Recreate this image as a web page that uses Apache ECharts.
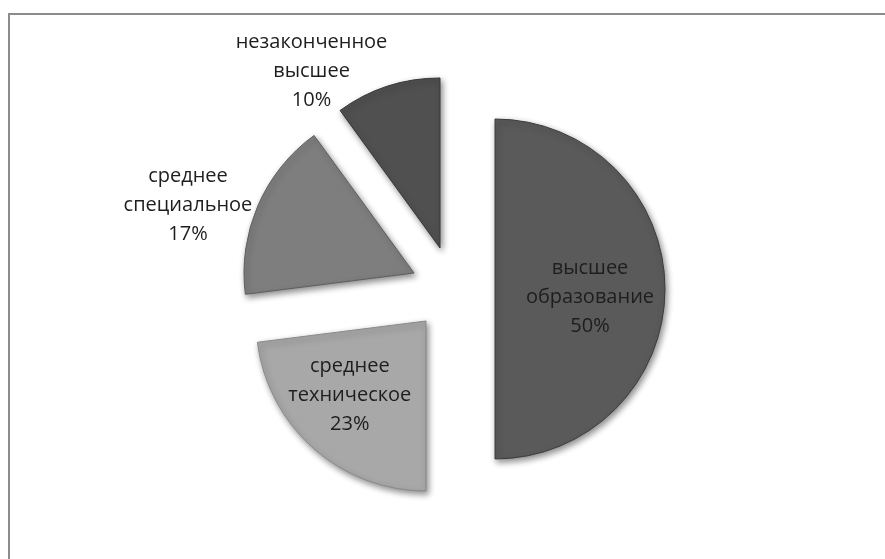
<!DOCTYPE html>
<html>
<head>
<meta charset="utf-8">
<script src="https://cdn.jsdelivr.net/npm/echarts@6/dist/echarts.min.js"></script>
<style>
html,body{margin:0;padding:0;background:#fff;}
#chart{width:885px;height:559px;}
</style>
</head>
<body>
<div id="chart"></div>
<script>
// ---- data ----
const categories = ['высшее образование', 'среднее техническое', 'среднее специальное', 'незаконченное высшее'];
const values = [50, 23, 17, 10];

// ---- styling / layout (not data) ----
const sliceColors = ['#5a5a5a', '#a8a8a8', '#7e7e7e', '#505050'];
const borderColors = ['#3c3c3c', '#8a8a8a', '#5e5e5e', '#383838'];
const centers = [[495, 289], [426, 321], [414, 273], [440, 248]];
const RADIUS = 170;
const FONT = '"Open Sans", "Noto Sans", sans-serif';

function labelText(name, pct) {
  return name.replace(' ', '\n') + '\n' + pct + '%';
}

const labelCfg = [
  { position: 'inside', dx: 7, dy: 8 },
  { position: 'inside', dx: -18, dy: 8 },
  { position: 'outside', length: 0, length2: 0, blockW: 130 },
  { position: 'outside', length: 16, length2: 0, blockW: 132 }
];

const series = categories.map((cat, si) => {
  const cfg = labelCfg[si];
  const data = categories.map((name, i) => {
    const visible = i === si;
    return {
      name: name,
      value: values[i],
      itemStyle: visible ? {
        color: {
          type: 'radial', x: 0.5, y: 0.5, r: 0.9,
          colorStops: [
            { offset: 0, color: sliceColors[i] },
            { offset: 1, color: sliceColors[i] }
          ]
        },
        borderColor: borderColors[i],
        borderWidth: 1,
        shadowBlur: 6,
        shadowColor: 'rgba(0,0,0,0.45)',
        shadowOffsetX: 2,
        shadowOffsetY: 3
      } : { color: 'rgba(0,0,0,0)', borderWidth: 0 },
      label: { show: visible },
      labelLine: { show: false }
    };
  });
  const s = {
    type: 'pie',
    center: centers[si],
    radius: [0, RADIUS],
    startAngle: 90,
    clockwise: true,
    avoidLabelOverlap: false,
    silent: true,
    animation: false,
    emphasis: { disabled: true },
    data: data,
    labelLine: { show: false, length: cfg.length || 0, length2: cfg.length2 || 0 },
    label: {
      position: cfg.position,
      fontFamily: FONT,
      fontSize: 20,
      color: '#1e1e1e',
      lineHeight: 29
    }
  };
  if (cfg.position === 'inside') {
    s.label.formatter = p => labelText(p.name, p.percent);
    s.labelLayout = { dx: cfg.dx, dy: cfg.dy };
  } else {
    s.label.formatter = p => labelText(p.name, p.percent).split('\n').map(t => '{c|' + t + '}').join('\n');
    s.label.rich = { c: { width: cfg.blockW, align: 'center', fontFamily: FONT, fontSize: 20, color: '#1e1e1e', lineHeight: 29 } };
  }
  return s;
});

const chart = echarts.init(document.getElementById('chart'), null, { renderer: 'canvas' });
chart.setOption({
  backgroundColor: '#ffffff',
  animation: false,
  graphic: [{
    type: 'rect',
    shape: { x: 9, y: 14, width: 900, height: 600 },
    style: { fill: 'none', stroke: '#8c8c8c', lineWidth: 2 },
    silent: true
  }],
  series: series
});
</script>
</body>
</html>
